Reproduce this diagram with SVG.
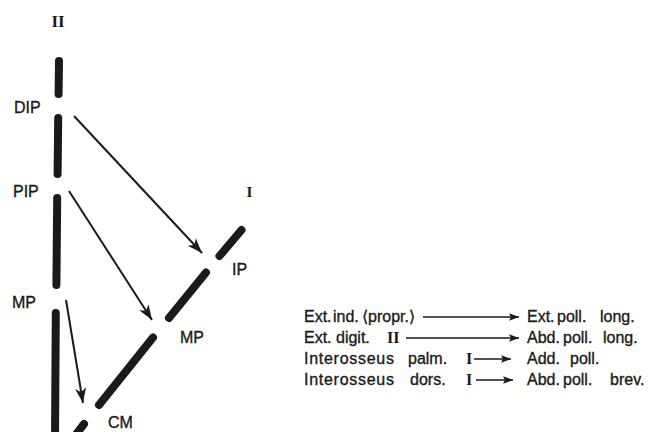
<svg xmlns="http://www.w3.org/2000/svg" width="654" height="432" viewBox="0 0 654 432">
<style>
.bone{stroke:#1a1a1a;stroke-width:8;stroke-linecap:round;fill:none}
.lbl{font-family:"Liberation Sans",Arial,sans-serif;font-size:16px;fill:#1a1a1a;stroke:#1a1a1a;stroke-width:0.35}
.rom{font-family:"Liberation Serif","Times New Roman",serif;font-weight:bold;fill:#1a1a1a}
.arr{stroke:#1a1a1a;stroke-width:2;fill:none;marker-end:url(#big)}
.arr2{stroke:#1a1a1a;stroke-width:1.5;fill:none;marker-end:url(#small)}
</style>
<defs>
<marker id="big" markerUnits="userSpaceOnUse" viewBox="-16 -7 18 14" refX="0" refY="0" markerWidth="18" markerHeight="14" orient="auto" overflow="visible">
<path d="M0,0 L-15,-5.5 L-11,0 L-15,5.5 Z" fill="#1a1a1a"/>
</marker>
<marker id="small" markerUnits="userSpaceOnUse" viewBox="-11 -5 12 10" refX="0" refY="0" markerWidth="12" markerHeight="10" orient="auto" overflow="visible">
<path d="M0,0 L-10,-3.8 L-8,0 L-10,3.8 Z" fill="#1a1a1a"/>
</marker>
</defs>
<rect width="654" height="432" fill="#ffffff"/>

<g id="finger-II">
<line class="bone" x1="59" y1="61" x2="58.6" y2="94"/>
<line class="bone" x1="58.2" y1="118" x2="57.6" y2="174"/>
<line class="bone" x1="57.2" y1="198" x2="56.4" y2="285"/>
<line class="bone" x1="55.8" y1="313" x2="55" y2="440"/>
<text class="rom" x="58" y="27" font-size="17" text-anchor="middle">II</text>
</g>

<g id="thumb-I">
<line class="bone" x1="241.5" y1="230" x2="219.5" y2="256"/>
<line class="bone" x1="206" y1="272.5" x2="169" y2="318"/>
<line class="bone" x1="153" y1="337.5" x2="99" y2="405"/>
<line class="bone" x1="84" y1="424" x2="74" y2="437"/>
<text class="rom" x="249.5" y="197" font-size="15" text-anchor="middle">I</text>
</g>

<g id="joint-DIP"><text class="lbl" x="14" y="112.5">DIP</text></g>
<g id="joint-PIP"><text class="lbl" x="13" y="197">PIP</text></g>
<g id="joint-MP-II"><text class="lbl" x="12" y="308">MP</text></g>
<g id="joint-IP"><text class="lbl" x="232" y="275">IP</text></g>
<g id="joint-MP-I"><text class="lbl" x="180" y="343">MP</text></g>
<g id="joint-CM"><text class="lbl" x="108" y="428">CM</text></g>

<g id="connectors">
<line class="arr" x1="74" y1="116" x2="202" y2="253"/>
<line class="arr" x1="69" y1="191" x2="152" y2="320"/>
<line class="arr" x1="66" y1="300" x2="83" y2="403"/>
<line class="arr2" x1="423" y1="317" x2="519" y2="317"/>
<line class="arr2" x1="406" y1="338" x2="519" y2="338"/>
<line class="arr2" x1="474" y1="359" x2="511" y2="359"/>
<line class="arr2" x1="476" y1="380" x2="513" y2="380"/>
</g>

<g id="muscle-ext-ind">
<text class="lbl" y="322"><tspan x="304">Ext.</tspan><tspan x="333">ind.</tspan><tspan x="362">⟨propr.⟩</tspan></text>
</g>
<g id="muscle-ext-poll-long">
<text class="lbl" y="322"><tspan x="527">Ext.</tspan><tspan x="557">poll.</tspan><tspan x="600">long.</tspan></text>
</g>
<g id="muscle-ext-digit">
<text class="lbl" y="343"><tspan x="304">Ext.</tspan><tspan x="336">digit.</tspan></text>
<text class="rom" x="387" y="343" font-size="16">II</text>
</g>
<g id="muscle-abd-poll-long">
<text class="lbl" y="343"><tspan x="527">Abd.</tspan><tspan x="563">poll.</tspan><tspan x="603">long.</tspan></text>
</g>
<g id="muscle-inteross-palm">
<text class="lbl" y="364"><tspan x="304" textLength="90">Interosseus</tspan><tspan x="408">palm.</tspan></text>
<text class="rom" x="466" y="364" font-size="16">I</text>
</g>
<g id="muscle-add-poll">
<text class="lbl" y="364"><tspan x="527">Add.</tspan><tspan x="570">poll.</tspan></text>
</g>
<g id="muscle-inteross-dors">
<text class="lbl" y="385"><tspan x="304" textLength="90">Interosseus</tspan><tspan x="410">dors.</tspan></text>
<text class="rom" x="466" y="385" font-size="16">I</text>
</g>
<g id="muscle-abd-poll-brev">
<text class="lbl" y="385"><tspan x="527">Abd.</tspan><tspan x="563">poll.</tspan><tspan x="610">brev.</tspan></text>
</g>
</svg>
